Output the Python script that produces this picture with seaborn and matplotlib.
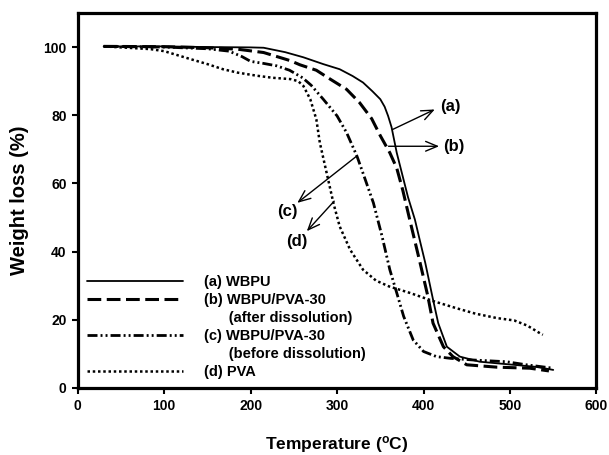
import matplotlib
matplotlib.use("Agg")
import matplotlib.pyplot as plt
from matplotlib.lines import Line2D
import seaborn as sns
import pandas as pd

# Thermogravimetric curves: temperature (°C) and remaining weight (%)
wbpu_t = [30, 100, 150, 200, 215, 240, 261, 284, 303, 318, 330, 341, 350, 355, 359,
          363, 369, 376, 382, 390, 396, 402, 411, 417, 427, 442, 465, 504, 530, 550]
wbpu_w = [100.2, 100.2, 100.0, 99.9, 99.8, 98.5, 97.0, 95.0, 93.5, 91.5, 89.6, 87.0, 84.7, 82.5, 79.8,
          76.5, 69.0, 62.0, 56.0, 49.4, 43.0, 36.7, 25.9, 19.0, 12.1, 9.2, 7.7, 6.8, 6.2, 5.3]

after_t = [30, 100, 150, 184, 215, 246, 257, 276, 292, 311, 326, 340, 350, 361, 369,
           376, 384, 396, 405, 411, 423, 434, 450, 485, 523, 545]
after_w = [100.2, 100.1, 99.8, 99.4, 98.4, 96.0, 94.8, 93.2, 90.6, 87.6, 83.7, 79.0, 74.0, 69.0, 64.5,
           58.0, 49.4, 36.7, 26.9, 19.0, 12.1, 9.2, 6.8, 6.1, 5.8, 5.0]

before_t = [30, 100, 150, 175, 190, 200, 215, 230, 245, 260, 270, 284, 300, 311, 323,
            330, 342, 352, 361, 369, 377, 388, 400, 415, 431, 458, 496, 519, 550]
before_w = [100.2, 100.0, 99.5, 98.8, 97.2, 95.8, 95.2, 94.5, 93.2, 91.0, 88.8, 84.7, 79.8, 74.9, 68.0,
            63.0, 54.3, 44.5, 34.7, 27.9, 21.0, 14.1, 10.7, 9.2, 8.7, 8.2, 7.7, 6.8, 5.8]

pva_t = [30, 84, 100, 130, 150, 168, 185, 207, 225, 246, 255, 261, 269, 276, 280,
         288, 296, 303, 315, 330, 345, 360, 384, 411, 438, 460, 485, 505, 520, 535, 538]
pva_w = [100.2, 99.4, 98.8, 96.5, 95.0, 93.5, 92.5, 91.6, 91.0, 90.6, 90.0, 88.6, 84.7, 78.8, 72.0,
         63.0, 54.0, 47.4, 40.6, 34.7, 31.5, 29.8, 27.9, 25.5, 23.4, 21.8, 20.5, 19.8, 18.3, 16.0, 15.6]

labels = ["(a) WBPU", "(b) WBPU/PVA-30", "(c) WBPU/PVA-30", "(d) PVA"]
sublabels = ["", "(after dissolution)", "(before dissolution)", ""]
x_ticks = [0, 100, 200, 300, 400, 500, 600]
y_ticks = [0, 20, 40, 60, 80, 100]

sns.set_style("ticks")
plt.rcParams["font.family"] = ["Liberation Sans", "DejaVu Sans"]
plt.rcParams["font.weight"] = "bold"
plt.rcParams["text.color"] = "black"
plt.rcParams["axes.labelcolor"] = "black"
plt.rcParams["xtick.color"] = "black"
plt.rcParams["ytick.color"] = "black"
plt.rcParams["legend.labelcolor"] = "black"
plt.rcParams["mathtext.fontset"] = "custom"
plt.rcParams["mathtext.rm"] = "Liberation Sans:bold"
plt.rcParams["mathtext.default"] = "rm"

fig = plt.figure(figsize=(6.09, 4.55), dpi=100)
ax = fig.add_axes([0.1276, 0.1473, 0.8518, 0.8242])

styles = [
    dict(linestyle="-", linewidth=1.3),
    dict(linestyle=(0, (4.5, 1.8)), linewidth=2.2),
    dict(linestyle=(0, (3.6, 1.1, 0.7, 1.1, 0.7, 1.1)), linewidth=2.0),
    dict(linestyle=(0, (1, 1.1)), linewidth=1.8),
]
series = [(wbpu_t, wbpu_w), (after_t, after_w), (before_t, before_w), (pva_t, pva_w)]

for (t, w), st in zip(series, styles):
    df = pd.DataFrame({"T": t, "W": w})
    sns.lineplot(data=df, x="T", y="W", ax=ax, color="black", sort=False,
                 legend=False, **st)

ax.set_xlim(0, 600)
ax.set_ylim(0, 110)
ax.set_xticks(x_ticks)
ax.set_yticks(y_ticks)
ax.tick_params(axis="both", direction="out", length=4, width=1.5,
               labelsize=10, pad=4, colors="black", labelcolor="black")
for lbl in ax.get_xticklabels() + ax.get_yticklabels():
    lbl.set_fontweight("bold")
for sp in ax.spines.values():
    sp.set_visible(True)
    sp.set_linewidth(2.3)
    sp.set_color("black")

ax.set_xlabel("Temperature ($^o$C)", fontsize=12.5, fontweight="bold",
              labelpad=15, color="black")
ax.set_ylabel("Weight loss (%)", fontsize=14.5, fontweight="bold",
              labelpad=10, color="black")

# Legend: each sample with an optional second line for its condition
handles, texts = [], []
for st, lab, sub in zip(styles, labels, sublabels):
    handles.append(Line2D([], [], color="black", **st))
    texts.append(lab)
    if sub:
        handles.append(Line2D([], [], linestyle="none"))
        texts.append("      " + sub)
leg = ax.legend(handles, texts, loc="upper left", bbox_to_anchor=(0.018, 0.300),
                frameon=False, handlelength=6.6, handletextpad=1.45,
                labelspacing=0.27, borderpad=0, borderaxespad=0,
                labelcolor="black", prop=dict(weight="bold", size=10.5))

# Arrows pointing from each curve to its tag
arrow = dict(arrowstyle="->,head_length=0.6,head_width=0.25", color="black",
             lw=1.0, shrinkA=0, shrinkB=0, mutation_scale=14)
tags = [
    ("(a)", (364, 75.8), (413, 81.7), (431, 82.5)),
    ("(b)", (359.5, 70.9), (418, 70.9), (435, 70.7)),
    ("(c)", (322.6, 68.0), (254, 54.3), (242.7, 51.9)),
    ("(d)", (296.6, 54.8), (265, 46.0), (254, 43.0)),
]
for txt, tail, head, pos in tags:
    ax.annotate("", xy=head, xytext=tail, arrowprops=arrow)
    ax.text(pos[0], pos[1], txt, ha="center", va="center", fontsize=12,
            fontweight="bold", color="black")

fig.savefig("out.png", dpi=100)
